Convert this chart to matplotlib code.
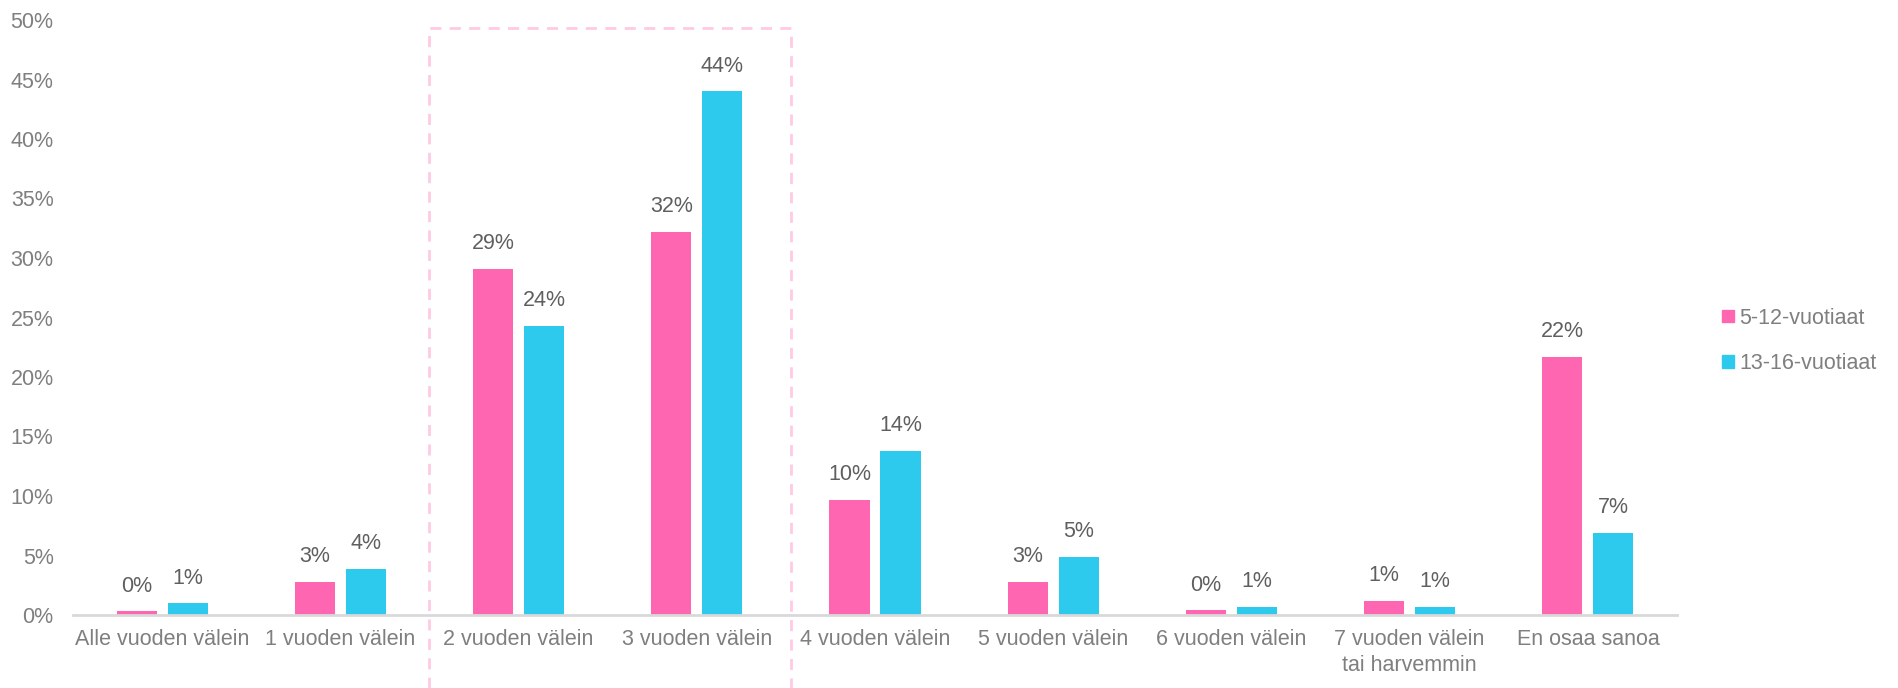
import matplotlib.pyplot as plt
from matplotlib.patches import Patch, Rectangle
import matplotlib.transforms as mtransforms
import numpy as np

plt.rcParams['font.family'] = ['Liberation Sans', 'DejaVu Sans']

# data (share of respondents, %)
categories = ['Alle vuoden välein', '1 vuoden välein', '2 vuoden välein', '3 vuoden välein',
              '4 vuoden välein', '5 vuoden välein', '6 vuoden välein',
              '7 vuoden välein\ntai harvemmin', 'En osaa sanoa']
series_names = ['5-12-vuotiaat', '13-16-vuotiaat']
vals_5_12 = [0.3, 2.8, 29.1, 32.2, 9.7, 2.8, 0.4, 1.2, 21.7]
vals_13_16 = [1.0, 3.9, 24.3, 44.0, 13.8, 4.9, 0.7, 0.7, 6.9]
yticks = [0, 5, 10, 15, 20, 25, 30, 35, 40, 45, 50]

pink = '#FF66B2'
cyan = '#2ECAEE'
grey_txt = '#7F7F7F'
lab_txt = '#5F5F5F'

fig = plt.figure(figsize=(18.98, 6.88), dpi=100)
ax = fig.add_axes([73/1898, 73/688, 1604/1898, 595/688])

x = np.arange(len(categories))
w = 0.225
off = 0.143
b1 = ax.bar(x - off, vals_5_12, w, color=pink, zorder=2)
b2 = ax.bar(x + off, vals_13_16, w, color=cyan, zorder=2)

for bars in (b1, b2):
    for r in bars:
        v = r.get_height()
        ax.annotate(f'{round(v):.0f}%', (r.get_x() + r.get_width()/2, v),
                    xytext=(0, 14), textcoords='offset points',
                    ha='center', va='baseline', fontsize=15.5, color=lab_txt)

ax.set_xlim(-0.5, len(categories) - 0.5)
ax.set_ylim(0, 50)
ax.set_yticks(yticks)
ax.set_yticklabels([f'{t}%' for t in yticks])
ax.set_xticks(x)
ax.set_xticklabels(categories, linespacing=1.35)
ax.tick_params(axis='y', length=0, pad=14, labelsize=15.5, labelcolor=grey_txt)
ax.tick_params(axis='x', length=0, pad=10, labelsize=15.5, labelcolor=grey_txt)

for s in ['top', 'right', 'left']:
    ax.spines[s].set_visible(False)
ax.spines['bottom'].set_color('#D9D9D9')
ax.spines['bottom'].set_linewidth(2)
ax.spines['bottom'].set_zorder(3)

# dashed highlight box around 2 and 3 year groups
trans = mtransforms.blended_transform_factory(ax.transData, ax.transAxes)
box = Rectangle((1.5, -0.2), 2.03, 0.9866 + 0.2, transform=trans, fill=False,
                edgecolor='#FFCAE4', linewidth=2, linestyle=(0, (4, 3)), clip_on=False)
ax.add_patch(box)

handles = [Patch(color=pink), Patch(color=cyan)]
fig.legend(handles, series_names, loc='center left',
           bbox_to_anchor=(1722/1898, 1 - 341/688), frameon=False,
           fontsize=15.5, labelcolor=grey_txt, handlelength=0.55, handleheight=0.55,
           handletextpad=0.25, labelspacing=1.15, borderpad=0, borderaxespad=0)

plt.savefig('out.png', dpi=100)
